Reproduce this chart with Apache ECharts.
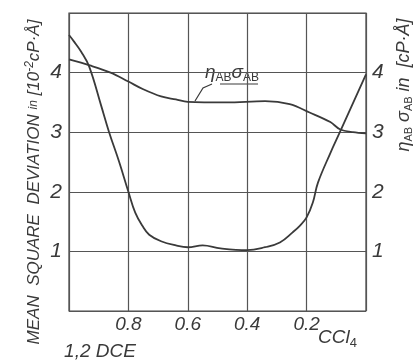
<!DOCTYPE html>
<html>
<head>
<meta charset="utf-8">
<script src="https://cdn.jsdelivr.net/npm/echarts@6/dist/echarts.min.js"></script>
<style>
html, body { margin: 0; padding: 0; background: #fff; }
#chart { width: 419px; height: 364px; }
</style>
</head>
<body>
<div id="chart"></div>
<script>
// mole fraction of 1,2-DCE, 1 on the left, 0 (pure CCl4) on the right
var msdX = [1.0, 0.983, 0.959, 0.932, 0.892, 0.865, 0.831, 0.80, 0.777, 0.753, 0.73, 0.69, 0.64, 0.60, 0.55, 0.49, 0.40, 0.34, 0.29, 0.247, 0.223, 0.20, 0.179, 0.162, 0.12, 0.088, 0.0];
var msdY = [4.63, 4.52, 4.35, 4.1, 3.45, 3.0, 2.5, 2.0, 1.65, 1.43, 1.28, 1.17, 1.1, 1.07, 1.1, 1.05, 1.02, 1.07, 1.15, 1.32, 1.43, 1.57, 1.82, 2.15, 2.65, 3.0, 3.97];
var etaX = [1.0, 0.93, 0.86, 0.80, 0.75, 0.69, 0.64, 0.60, 0.47, 0.34, 0.257, 0.19, 0.12, 0.088, 0.044, 0.0];
var etaY = [4.22, 4.12, 4.0, 3.85, 3.72, 3.6, 3.55, 3.51, 3.5, 3.52, 3.47, 3.33, 3.17, 3.05, 3.0, 2.98];
var xTicks = ['0.8', '0.6', '0.4', '0.2'];
var yTicks = ['1', '2', '3', '4'];

var ink = '#3a3a3a';
var font = "'Liberation Sans Narrow', 'Liberation Sans', sans-serif";

function pairs(xs, ys) {
    return xs.map(function (x, i) { return [x, ys[i]]; });
}

var chart = echarts.init(document.getElementById('chart'));
var option = {
    backgroundColor: '#fff',
    animation: false,
    grid: {
        left: 69, right: 53, top: 13, bottom: 53,
        show: true,
        borderColor: '#444',
        borderWidth: 1.2
    },
    xAxis: {
        type: 'value',
        inverse: true,
        min: 0, max: 1, interval: 0.2,
        axisLine: { show: false },
        axisTick: { show: false },
        splitLine: { lineStyle: { color: '#555', width: 1.2 } },
        axisLabel: {
            margin: 4,
            color: ink,
            fontFamily: font,
            fontStyle: 'italic',
            fontSize: 19,
            formatter: function (v) {
                var s = v.toFixed(1);
                return xTicks.indexOf(s) >= 0 ? s : '';
            }
        }
    },
    yAxis: [{
        type: 'value',
        min: 0, max: 5, interval: 1,
        axisLine: { show: false },
        axisTick: { show: false },
        splitLine: { lineStyle: { color: '#555', width: 1.2 } },
        axisLabel: {
            margin: 7,
            color: ink,
            fontFamily: font,
            fontStyle: 'italic',
            fontSize: 21,
            formatter: function (v) {
                var s = String(v);
                return yTicks.indexOf(s) >= 0 ? s : '';
            }
        }
    }, {
        type: 'value',
        position: 'right',
        min: 0, max: 5, interval: 1,
        axisLine: { show: false },
        axisTick: { show: false },
        splitLine: { show: false },
        axisLabel: {
            margin: 6,
            color: ink,
            fontFamily: font,
            fontStyle: 'italic',
            fontSize: 21,
            formatter: function (v) {
                var s = String(v);
                return yTicks.indexOf(s) >= 0 ? s : '';
            }
        }
    }],
    series: [{
        name: 'mean square deviation',
        type: 'line',
        data: pairs(msdX, msdY),
        showSymbol: false,
        smooth: 0.4,
        lineStyle: { color: ink, width: 1.8 }
    }, {
        name: 'eta sigma',
        type: 'line',
        data: pairs(etaX, etaY),
        showSymbol: false,
        smooth: 0.35,
        lineStyle: { color: ink, width: 1.8 }
    }],
    graphic: [
        // left title
        {
            type: 'text', x: 34, y: 182, rotation: Math.PI / 2,
            style: {
                text: 'MEAN  SQUARE  DEVIATION {s|in} [10{sup|-2}cP·Å]',
                fill: ink, font: 'italic 17px ' + font,
                align: 'center', verticalAlign: 'middle',
                rich: {
                    s: { fontSize: 12, fontStyle: 'italic', fontFamily: font, fill: ink },
                    sup: { fontSize: 12, fontStyle: 'italic', fontFamily: font, fill: ink, padding: [0, 0, 9, 0] }
                }
            }
        },
        // right title
        {
            type: 'text', x: 404, y: 85, rotation: Math.PI / 2,
            style: {
                text: 'η{sub|AB} σ{sub|AB} in  [cP·Å]',
                fill: ink, font: 'italic 18px ' + font,
                align: 'center', verticalAlign: 'middle',
                rich: {
                    sub: { fontSize: 11, fontFamily: font, fill: ink, padding: [9, 0, 0, 0] }
                }
            }
        },
        // curve label
        {
            type: 'text', x: 205, y: 73,
            style: {
                text: 'η{sub|AB}σ{sub|AB}',
                fill: ink, font: 'italic 19px ' + font,
                align: 'left', verticalAlign: 'middle',
                rich: {
                    sub: { fontSize: 12, fontFamily: font, fill: ink, padding: [9, 0, 0, 0] }
                }
            }
        },
        {
            type: 'line', shape: { x1: 220, y1: 84, x2: 258, y2: 84 },
            style: { stroke: ink, lineWidth: 1.2 }
        },
        {
            type: 'polyline', shape: { points: [[212, 84], [203, 88], [195, 101]] },
            style: { stroke: ink, lineWidth: 1.2, fill: null }
        },
        // composition end labels
        {
            type: 'text', x: 100, y: 352,
            style: {
                text: '1,2 DCE', fill: ink, font: 'italic 19px ' + font,
                align: 'center', verticalAlign: 'middle'
            }
        },
        {
            type: 'text', x: 318, y: 338,
            style: {
                text: 'CCl{sub|4}', fill: ink, font: 'italic 19px ' + font,
                align: 'left', verticalAlign: 'middle',
                rich: {
                    sub: { fontSize: 13, fontFamily: font, fill: ink, padding: [10, 0, 0, 0] }
                }
            }
        }
    ]
};
chart.setOption(option);
window.addEventListener('resize', function () { chart.resize(); });
</script>
</body>
</html>
